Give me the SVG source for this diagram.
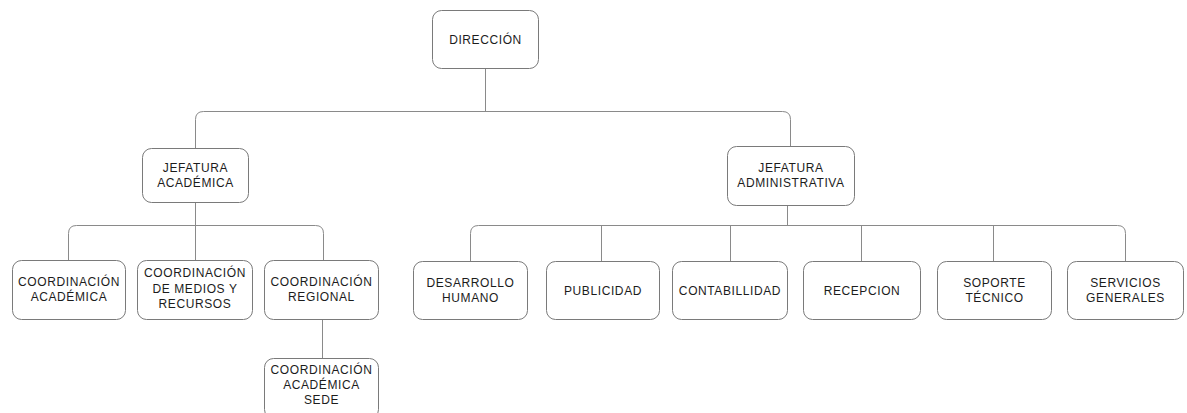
<svg xmlns="http://www.w3.org/2000/svg" width="1187" height="413" viewBox="0 0 1187 413">
  <style>
    .box { fill: #ffffff; stroke: #7a7a7a; stroke-width: 1; }
    .lbl { font-family: "Liberation Sans", Arial, sans-serif; font-size: 12px; letter-spacing: 0.6px; fill: #1c1c1c; text-anchor: middle; }
    .wire { fill: none; stroke: #8a8a8a; stroke-width: 1; }
  </style>
  <rect width="1187" height="413" fill="#ffffff"/>

  <g id="connectors">
    <path class="wire" d="M485.5,68 V111.5"/>
    <path class="wire" d="M195.5,148 V119.5 Q195.5,111.5 203.5,111.5 H782.5 Q790.5,111.5 790.5,119.5 V146"/>
    <path class="wire" d="M195.5,202 V260"/>
    <path class="wire" d="M68.5,260 V233.5 Q68.5,225.5 76.5,225.5 H315.5 Q323.5,225.5 323.5,233.5 V260"/>
    <path class="wire" d="M322.5,319 V358"/>
    <path class="wire" d="M787.5,205 V225.5"/>
    <path class="wire" d="M470.5,261 V233.5 Q470.5,225.5 478.5,225.5 H1117.5 Q1125.5,225.5 1125.5,233.5 V261"/>
    <path class="wire" d="M601.5,225.5 V261 M730.5,225.5 V261 M861.5,225.5 V261 M993.5,225.5 V261"/>
  </g>

  <g id="direccion">
    <rect class="box" x="432.5" y="10.5" width="106" height="58" rx="9"/>
    <text class="lbl" x="485.5" y="43.5">DIRECCIÓN</text>
  </g>

  <g id="jefatura-academica">
    <rect class="box" x="142.5" y="148.5" width="106" height="54" rx="9"/>
    <text class="lbl" x="195.5" y="171.5">JEFATURA</text>
    <text class="lbl" x="195.5" y="186.5">ACADÉMICA</text>
  </g>

  <g id="jefatura-administrativa">
    <rect class="box" x="727.5" y="146.5" width="127" height="59" rx="9"/>
    <text class="lbl" x="791" y="171.5">JEFATURA</text>
    <text class="lbl" x="791" y="186.5">ADMINISTRATIVA</text>
  </g>

  <g id="coordinacion-academica">
    <rect class="box" x="12.5" y="260.5" width="113" height="59" rx="9"/>
    <text class="lbl" x="69" y="286">COORDINACIÓN</text>
    <text class="lbl" x="69" y="301">ACADÉMICA</text>
  </g>

  <g id="coordinacion-medios">
    <rect class="box" x="137.5" y="260.5" width="115" height="59" rx="9"/>
    <text class="lbl" x="195" y="277">COORDINACIÓN</text>
    <text class="lbl" x="195" y="292.5">DE MEDIOS Y</text>
    <text class="lbl" x="195" y="308">RECURSOS</text>
  </g>

  <g id="coordinacion-regional">
    <rect class="box" x="264.5" y="260.5" width="114" height="59" rx="9"/>
    <text class="lbl" x="321.5" y="286">COORDINACIÓN</text>
    <text class="lbl" x="321.5" y="301">REGIONAL</text>
  </g>

  <g id="coordinacion-academica-sede">
    <rect class="box" x="264.5" y="358.5" width="114" height="60" rx="9"/>
    <text class="lbl" x="321.5" y="373.5">COORDINACIÓN</text>
    <text class="lbl" x="321.5" y="388.5">ACADÉMICA</text>
    <text class="lbl" x="321.5" y="403.5">SEDE</text>
  </g>

  <g id="desarrollo-humano">
    <rect class="box" x="413.5" y="261.5" width="114" height="58" rx="9"/>
    <text class="lbl" x="470.5" y="286.5">DESARROLLO</text>
    <text class="lbl" x="470.5" y="301.5">HUMANO</text>
  </g>

  <g id="publicidad">
    <rect class="box" x="546.5" y="261.5" width="113" height="58" rx="9"/>
    <text class="lbl" x="603" y="294.5">PUBLICIDAD</text>
  </g>

  <g id="contabilidad">
    <rect class="box" x="672.5" y="261.5" width="115" height="58" rx="9"/>
    <text class="lbl" x="730" y="294.5">CONTABILLIDAD</text>
  </g>

  <g id="recepcion">
    <rect class="box" x="803.5" y="261.5" width="117" height="58" rx="9"/>
    <text class="lbl" x="862" y="294.5">RECEPCION</text>
  </g>

  <g id="soporte-tecnico">
    <rect class="box" x="937.5" y="261.5" width="114" height="58" rx="9"/>
    <text class="lbl" x="994.5" y="286.5">SOPORTE</text>
    <text class="lbl" x="994.5" y="301.5">TÉCNICO</text>
  </g>

  <g id="servicios-generales">
    <rect class="box" x="1067.5" y="261.5" width="116" height="58" rx="9"/>
    <text class="lbl" x="1125.5" y="286.5">SERVICIOS</text>
    <text class="lbl" x="1125.5" y="301.5">GENERALES</text>
  </g>
</svg>
